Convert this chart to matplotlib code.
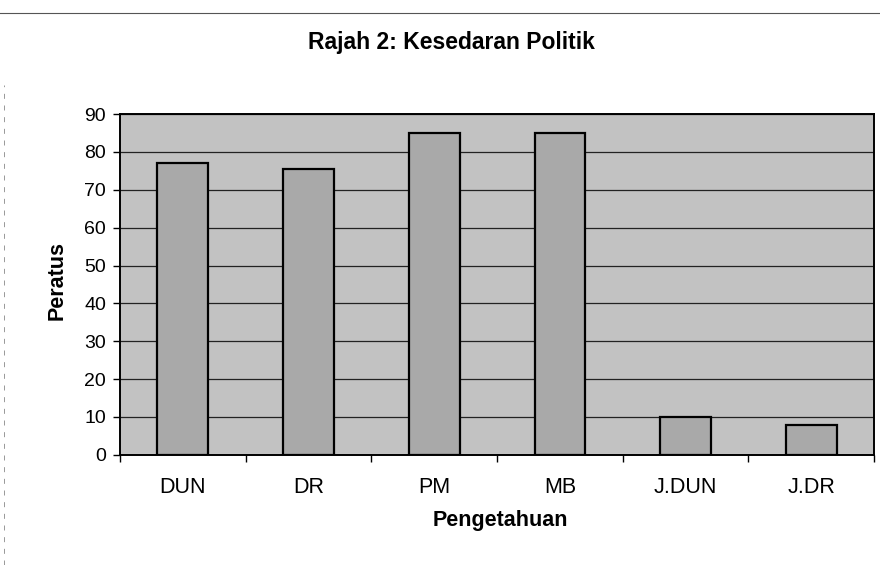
import matplotlib
matplotlib.use("Agg")
import matplotlib.pyplot as plt
import numpy as np

# values
categories = ["DUN", "DR", "PM", "MB", "J.DUN", "J.DR"]
peratus = [77, 75.5, 85, 85, 10, 8]
y_ticks = list(range(0, 100, 10))

plt.rcParams['font.family'] = ['Liberation Sans', 'DejaVu Sans']

fig = plt.figure(figsize=(8.8, 5.65), dpi=100)
ax = fig.add_axes([0.1364, 0.195, 0.857, 0.603])

x = np.arange(len(categories))
ax.set_facecolor('#c2c2c2')
ax.bar(x, peratus, width=0.405, color='#a9a9a9', edgecolor='black',
       linewidth=1.6, zorder=3)

ax.set_xlim(-0.5, len(categories) - 0.5)
ax.set_ylim(0, 90)
ax.set_yticks(y_ticks)
ax.yaxis.grid(True, color='#222222', linewidth=0.9, zorder=1)
ax.set_axisbelow(True)

ax.set_xticks(x)
ax.set_xticklabels(categories, fontsize=15.5)
ax.set_xticks(np.arange(len(categories) + 1) - 0.5, minor=True)
ax.tick_params(axis='x', which='major', length=0, pad=16)
ax.tick_params(axis='x', which='minor', length=5, width=1)
ax.tick_params(axis='y', labelsize=14, length=5, width=1, pad=5)

for s in ax.spines.values():
    s.set_linewidth(1.4)
    s.set_color('black')

# axis titles and chart title placed to match the scan
fig.text(0.065, 0.503, 'Peratus', rotation=90, ha='center', va='center',
         fontsize=15.5, fontweight='bold')
fig.text(0.569, 0.078, 'Pengetahuan', ha='center', va='center',
         fontsize=15.5, fontweight='bold')
fig.text(0.5125, 0.913, 'Rajah 2: Kesedaran Politik', ha='center',
         va='baseline', fontsize=16.5, fontweight='bold')

# scan border lines
fig.add_artist(plt.Line2D([0, 1], [0.977, 0.977], color='#555555',
                          linewidth=0.8, transform=fig.transFigure))
fig.add_artist(plt.Line2D([0.004, 0.004], [0.0, 0.85], color='#888888',
                          linewidth=0.6, linestyle=(0, (6, 8)),
                          transform=fig.transFigure))

fig.savefig('out.png', dpi=100)
